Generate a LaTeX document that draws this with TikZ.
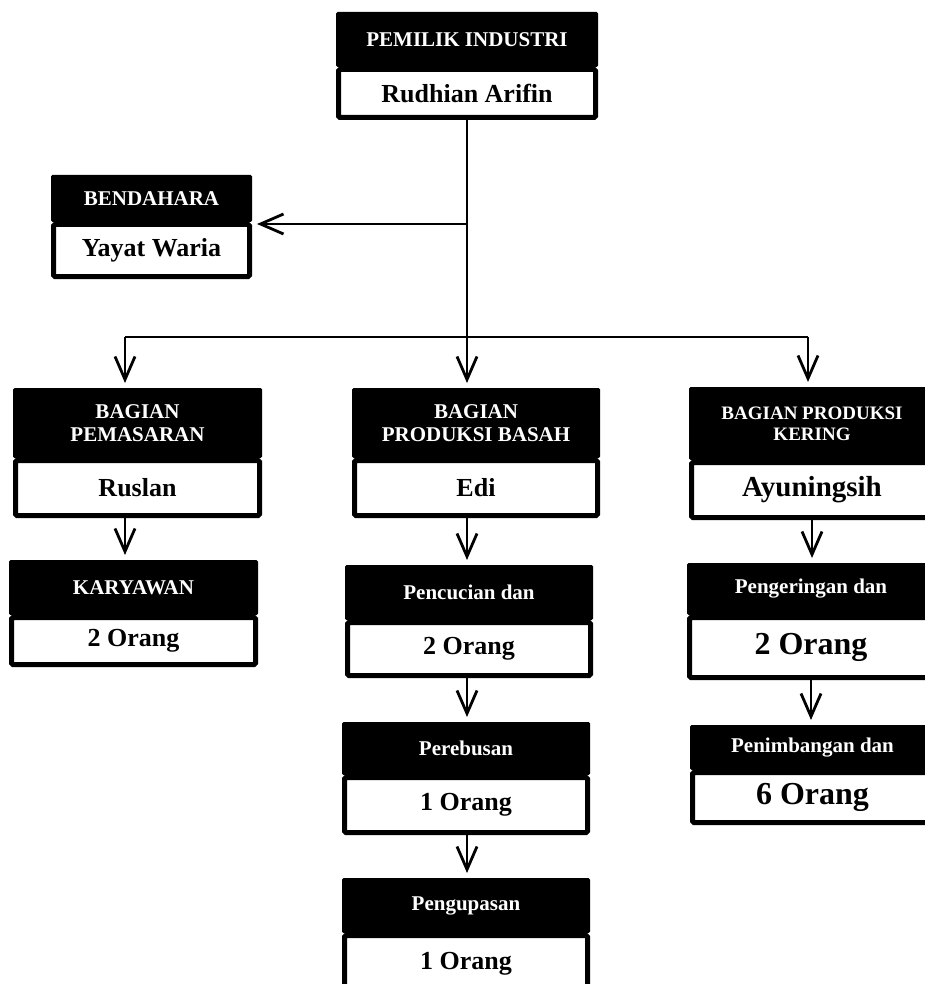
\documentclass[tikz,border=0pt]{standalone}
\usepackage{fontspec}
\setmainfont{Liberation Serif}
\usetikzlibrary{positioning,arrows.meta}
\begin{document}
\begin{tikzpicture}[x=1pt, y=-1pt,
header/.style={rectangle, fill=black, text=white, align=center, inner sep=2pt, outer sep=0pt, rounded corners=1.5pt, font=\fontsize{21}{23}\selectfont\bfseries},
isi/.style={rectangle, draw=black, fill=white, line width=5pt, inner sep=2pt, rounded corners=1.5pt, font=\fontsize{26}{28}\selectfont\bfseries},
garis/.style={line width=2.8pt},
panah/.style={line width=2.8pt, -{Straight Barb[length=23pt, width=20pt]}, shorten >=5pt},
]
\useasboundingbox (0,0) rectangle (925,984);
\clip (0,0) rectangle (925,984);

\node[header, minimum width=262pt, minimum height=55pt, anchor=north] (pemilik) at (467,12) {PEMILIK INDUSTRI};
\node[isi, minimum width=257pt, minimum height=48pt, below=0pt of pemilik] (pemilikisi) {Rudhian Arifin};

\node[header, minimum width=201pt, minimum height=47pt, anchor=north] (bendahara) at (151.5,175) {BENDAHARA};
\node[isi, minimum width=196pt, minimum height=52pt, below=0pt of bendahara] (bendaharaisi) {Yayat Waria};

\node[header, minimum width=249pt, minimum height=70pt, anchor=north] (pemasaran) at (137.5,388) {BAGIAN\\PEMASARAN};
\node[isi, minimum width=244pt, minimum height=55pt, below=0pt of pemasaran] (pemasaranisi) {Ruslan};

\node[header, minimum width=249pt, minimum height=55pt, anchor=north] (karyawan) at (133.5,560) {KARYAWAN};
\node[isi, minimum width=244pt, minimum height=47pt, below=0pt of karyawan] (karyawanisi) {2 Orang};

\node[header, minimum width=248pt, minimum height=70pt, anchor=north] (basah) at (476,388) {BAGIAN\\PRODUKSI BASAH};
\node[isi, minimum width=243pt, minimum height=55pt, below=0pt of basah] (basahisi) {Edi};

\node[header, minimum width=248pt, minimum height=55pt, anchor=north] (pencucian) at (469,565) {Pencucian dan};
\node[isi, minimum width=243pt, minimum height=53pt, below=0pt of pencucian] (pencucianisi) {2 Orang};

\node[header, minimum width=248pt, minimum height=53pt, anchor=north] (perebusan) at (466,722) {Perebusan};
\node[isi, minimum width=243pt, minimum height=55pt, below=0pt of perebusan] (perebusanisi) {1 Orang};

\node[header, minimum width=248pt, minimum height=55pt, anchor=north] (pengupasan) at (466,878) {Pengupasan};
\node[isi, minimum width=243pt, minimum height=56pt, below=0pt of pengupasan] (pengupasanisi) {1 Orang};

\node[header, minimum width=246pt, minimum height=73pt, anchor=north, font=\fontsize{19}{21}\selectfont\bfseries] (kering) at (812,387) {BAGIAN PRODUKSI\\KERING};
\node[isi, minimum width=241pt, minimum height=55pt, below=0pt of kering, font=\fontsize{29}{31}\selectfont\bfseries] (keringisi) {Ayuningsih};

\node[header, minimum width=248pt, minimum height=52pt, anchor=north] (pengeringan) at (811,563) {Pengeringan dan};
\node[isi, minimum width=243pt, minimum height=60pt, below=0pt of pengeringan, font=\fontsize{32}{34}\selectfont\bfseries] (pengeringanisi) {2 Orang};

\node[header, minimum width=245pt, minimum height=45pt, anchor=north] (penimbangan) at (812.5,725) {Penimbangan dan};
\node[isi, minimum width=240pt, minimum height=50pt, below=0pt of penimbangan, font=\fontsize{32}{34}\selectfont\bfseries] (penimbanganisi) {6 Orang};

\coordinate (cabang) at (467,337);
\coordinate (kiri) at (125,337);
\coordinate (kanan) at (808,337);
\coordinate (kas) at (467,224);

\draw[garis] (pemilikisi.south) -- (cabang);
\draw[garis] (kiri) -- (kanan);
\draw[panah] (kas) -- (kas -| bendahara.east);
\draw[panah] (kiri) -- (kiri |- pemasaran.north);
\draw[panah] (cabang) -- (cabang |- basah.north);
\draw[panah] (kanan) -- (kanan |- kering.north);
\draw[panah] (pemasaranisi.south -| kiri) -- (kiri |- karyawan.north);
\draw[panah] (basahisi.south -| cabang) -- (cabang |- pencucian.north);
\draw[panah] (pencucianisi.south -| cabang) -- (cabang |- perebusan.north);
\draw[panah] (perebusanisi.south -| cabang) -- (cabang |- pengupasan.north);
\draw[panah] (keringisi.south) -- (keringisi.south |- pengeringan.north);
\draw[panah] (pengeringanisi.south) -- (pengeringanisi.south |- penimbangan.north);
\end{tikzpicture}
\end{document}
